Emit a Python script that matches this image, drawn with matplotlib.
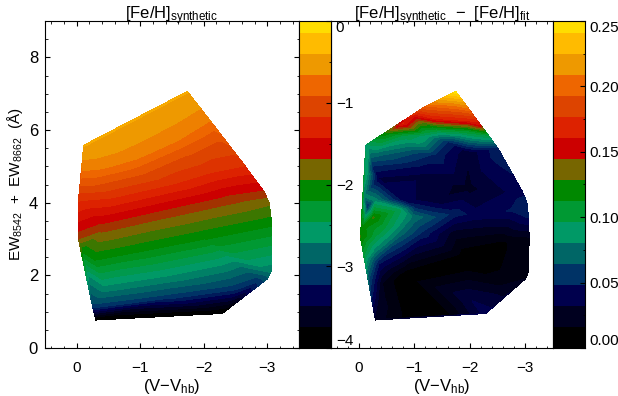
import numpy as np
import matplotlib
matplotlib.use("Agg")
import matplotlib.pyplot as plt
import matplotlib.colors as mcolors

plt.rcParams["font.family"] = ["Liberation Sans", "DejaVu Sans"]
plt.rcParams["mathtext.fontset"] = "custom"
plt.rcParams["mathtext.rm"] = "Liberation Sans"
plt.rcParams["mathtext.default"] = "regular"

# colour bands of the colour bar, bottom to top
band_colours = ["#000000", "#00001f", "#00004d", "#003366", "#006666", "#009966",
                "#009933", "#008800", "#776600", "#cc0000", "#dd2200", "#dd4400",
                "#ee6600", "#ee9900", "#ffbb00", "#ffdd00"]

# left panel, points
x_feh = [-0.30, -2.29,
         -0.25, -1.46, -2.50, -2.87, -3.00,
         -0.20, -0.44, -1.46, -3.06,
         -0.08, -0.28, -0.94, -1.98, -3.07,
         -0.02, -0.41, -1.46, -2.40, -2.95, -3.03,
         -0.03, -0.56, -1.46, -2.08, -2.62,
         -0.07, -0.25, -0.94, -1.73, -2.20,
         -0.09, -0.41, -0.94, -1.46, -2.06,
         -0.11, -1.74]
ew_feh = [0.77, 0.95,
          1.13, 1.40, 1.65, 1.87, 1.90,
          1.92, 1.65, 1.92, 2.10,
          2.69, 2.47, 2.69, 3.05, 3.43,
          3.05, 3.30, 3.71, 4.07, 4.30, 4.00,
          4.12, 4.20, 4.56, 4.89, 5.08,
          4.56, 4.56, 4.84, 5.44, 5.85,
          4.97, 5.03, 5.30, 5.71, 6.35,
          5.58, 7.06]
feh = [-4.0, -4.0,
       -3.1, -3.1, -3.1, -3.1, -2.95,
       -2.7, -2.7, -2.7, -2.75,
       -2.1, -2.1, -2.1, -2.1, -2.1,
       -1.7, -1.7, -1.7, -1.7, -1.65, -1.85,
       -1.2, -1.2, -1.2, -1.2, -1.2,
       -0.93, -0.93, -0.93, -0.93, -0.93,
       -0.67, -0.67, -0.67, -0.67, -0.67,
       -0.46, -0.46]

# right panel, points
x_diff = [-0.126, -1.75, -0.48, -0.79, -1.15, -0.99, -2.19, -2.33, -2.51, -2.95, -3.03,
          -1.38, -1.97, -1.69, -1.38, -0.79, -1.97,
          -1.20, -1.17, -1.62, -1.38, -1.02, -0.30, -0.18, -1.97,
          -0.36, -1.08, -1.97, -2.59, -0.25, -1.08, -0.13, -0.09,
          -0.07, -0.03, -0.09, -0.18, -0.30,
          -0.27, -0.72, -0.97, -1.38, -1.74, -2.15, -2.76, -3.06,
          -1.38, -0.79, -0.30, -0.16, -1.02,
          -0.30, -0.79, -1.15, -0.48, -0.30,
          -0.36, -1.69, -2.59, -3.07,
          -0.79, -1.97, -0.43, -0.36, -0.90, -2.29, -1.97, -1.56, -2.69, -3.00, -3.06]
ew_diff = [5.58, 7.06, 5.90, 6.18, 6.60, 6.40, 6.13, 5.85, 5.49, 4.30, 4.00,
           6.32, 6.26, 6.73, 6.04, 5.85, 5.99,
           5.85, 5.58, 5.66, 5.30, 5.36, 5.30, 5.49, 5.38,
           4.67, 4.75, 4.40, 4.29, 4.97, 5.03, 4.84, 4.20,
           3.32, 3.05, 2.55, 1.87, 0.77,
           3.60, 3.79, 3.60, 3.60, 3.71, 3.65, 3.79, 3.60,
           4.07, 4.07, 4.07, 3.90, 3.87,
           2.69, 3.16, 3.16, 3.32, 3.16,
           2.33, 3.16, 2.88, 3.05,
           1.95, 2.42, 1.79, 1.24, 0.86, 0.95, 1.40, 0.90, 1.51, 1.90, 2.10]
diff = [0.09, 0.25, 0.12, 0.165, 0.19, 0.16, 0.155, 0.10, 0.05, 0.04, 0.05,
        0.165, 0.165, 0.21, 0.11, 0.10, 0.11,
        0.09, 0.08, 0.05, 0.05, 0.06, 0.07, 0.085, 0.03,
        0.035, 0.035, 0.025, 0.035, 0.05, 0.045, 0.09, 0.08,
        0.12, 0.125, 0.10, 0.06, 0.025,
        0.125, 0.095, 0.075, 0.06, 0.048, 0.04, 0.045, 0.045,
        0.03, 0.04, 0.08, 0.05, 0.05,
        0.08, 0.07, 0.05, 0.10, 0.105,
        0.045, 0.025, 0.01, 0.02,
        0.005, 0.002, 0.02, 0.025, 0.008, 0.04, 0.035, 0.008, 0.025, 0.02, 0.02]

x_ticks = [0, -1, -2, -3]
y_ticks = [0, 2, 4, 6, 8]
bar1_ticks = [0, -1, -2, -3, -4]
bar2_ticks = [0.25, 0.20, 0.15, 0.10, 0.05, 0.00]

W, H = 618, 396
BAND = 21.0 / 327.0  # one colour band as a fraction of the bar height


def px_axes(left, top, right, bottom, **kw):
    return fig.add_axes([left / W, 1 - bottom / H, (right - left) / W, (bottom - top) / H], **kw)


def stripes():
    # every band keeps a flat colour, with one blended stripe between neighbours
    rgb = [mcolors.to_rgb(c) for c in band_colours]
    edges, cols = [], []
    for i in range(len(rgb)):
        edges += [i - 0.25, i + 0.25]
        cols.append(rgb[i])
        if i + 1 < len(rgb):
            cols.append(tuple((a + b) / 2 for a, b in zip(rgb[i], rgb[i + 1])))
    edges.append(len(rgb) - 0.25)
    return np.array(edges) + 0.5, cols[:len(edges) - 1]


def panel(ax, xs, ys, vals, vmin, vmax):
    edges, cols = stripes()
    levels = vmin + edges * BAND * (vmax - vmin)
    levels[0] = min(levels[0], min(vals) - 1)
    levels[-1] = max(levels[-1], max(vals) + 1)
    ax.tricontourf(xs, ys, vals, levels=levels, colors=cols[:len(levels) - 1])
    ax.set_xlim(0.5, -3.5)
    ax.set_ylim(0, 9)
    ax.set_xticks(x_ticks)
    ax.set_xticks(np.arange(-3.4, 0.5, 0.2), minor=True)
    ax.tick_params(axis="x", which="major", direction="in", top=True, length=3.6, pad=9, labelsize=11)
    ax.tick_params(axis="x", which="minor", direction="in", top=True, length=1.8)
    ax.set_xlabel("(V$-$V$_{hb}$)", fontsize=12, labelpad=1.5)


def bar(ax, vmin, vmax):
    edges = vmin + np.arange(17) * BAND * (vmax - vmin)
    edges[-1] = vmax
    for i, c in enumerate(band_colours):
        ax.axhspan(edges[i], edges[i + 1], color=c, lw=0)
    ax.set_ylim(vmin, vmax)
    ax.set_xticks([])
    ax.yaxis.tick_right()


fig = plt.figure(figsize=(W / 100, H / 100), dpi=100)

ax1 = px_axes(45, 21, 299, 348)
panel(ax1, x_feh, ew_feh, feh, -4, 0)
ax1.set_yticks(y_ticks)
ax1.set_yticks(np.arange(0.5, 9, 0.5), minor=True)
ax1.tick_params(axis="y", which="major", direction="in", right=True, length=3.6, pad=5, labelsize=12)
ax1.tick_params(axis="y", which="minor", direction="in", right=True, length=1.8)
ax1.set_ylabel("EW$_{8542}$  +  EW$_{8662}$  (Å)", fontsize=11, labelpad=3)
ax1.set_title("[Fe/H]$_{synthetic}$", fontsize=12, y=1.0, pad=1)

ax2 = px_axes(331, 21, 553, 348)
panel(ax2, x_diff, ew_diff, diff, 0, 0.25)
ax2.set_yticks([])
ax2.set_title("[Fe/H]$_{synthetic}$  $-$  [Fe/H]$_{fit}$", fontsize=12, y=1.0, pad=1)

cb1 = px_axes(299, 21, 331, 348, zorder=3)
bar(cb1, -4, 0)
cb1.set_yticks(bar1_ticks)
cb1.set_yticklabels(["0", "\u22121", "\u22122", "\u22123", "\u22124"])
cb1.set_yticks(np.arange(-3.5, 0, 1), minor=True)
cb2 = px_axes(553, 21, 585, 348, zorder=3)
bar(cb2, 0, 0.25)
cb2.set_yticks(bar2_ticks)
cb2.set_yticklabels(["%.2f" % t for t in bar2_ticks])
cb2.set_yticks(np.arange(0.025, 0.25, 0.05), minor=True)
for cb in (cb1, cb2):
    cb.tick_params(axis="y", which="major", direction="in", length=3.6, pad=3.5, labelsize=11)
    cb.tick_params(axis="y", which="minor", direction="in", length=1.8)
    labels = cb.get_yticklabels()
    labels[0].set_va("top")
    labels[-1].set_va("bottom")

fig.savefig("out.png", dpi=100)
